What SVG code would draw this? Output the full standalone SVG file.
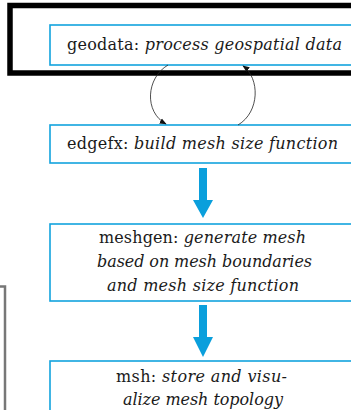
<svg xmlns="http://www.w3.org/2000/svg" width="351" height="410" viewBox="0 0 351 410">
<style>
.box{fill:#fff;stroke:#12a3de;stroke-width:1.6}
.t{font-family:"DejaVu Serif","Liberation Serif",serif;font-size:16px;fill:#1a1a1a;text-anchor:middle}
.i{font-style:italic}
.loop{fill:none;stroke:#222;stroke-width:0.8}
.big{fill:#0a9fdc}
</style>
<defs>
<marker id="ah" viewBox="0 0 10 10" refX="9" refY="5" markerWidth="7" markerHeight="7" markerUnits="userSpaceOnUse" orient="auto">
<path d="M0,1 L10,5 L0,9 z" fill="#111"/>
</marker>
</defs>
<rect x="0" y="0" width="351" height="410" fill="#fff"/>
<path d="M0,286.5 H5 V410" fill="none" stroke="#777" stroke-width="2.5"/>
<rect x="10" y="5.5" width="350" height="67.5" fill="none" stroke="#000" stroke-width="5.5"/>
<g id="geodata">
<rect class="box" x="50" y="25" width="306" height="40"/>
<text class="t" x="204.5" y="50" textLength="275" lengthAdjust="spacing">geodata: <tspan class="i">process geospatial data</tspan></text>
</g>
<g id="edgefx">
<rect class="box" x="50" y="125" width="306" height="38"/>
<text class="t" x="202.5" y="149" textLength="271" lengthAdjust="spacing">edgefx: <tspan class="i">build mesh size function</tspan></text>
</g>
<g id="meshgen">
<rect class="box" x="50" y="224" width="306" height="77"/>
<text class="t" x="202.5" y="243" textLength="207" lengthAdjust="spacing">meshgen: <tspan class="i">generate mesh</tspan></text>
<text class="t i" x="204.5" y="267" textLength="215" lengthAdjust="spacing">based on mesh boundaries</text>
<text class="t i" x="203" y="291" textLength="192" lengthAdjust="spacing">and mesh size function</text>
</g>
<g id="msh">
<rect class="box" x="50" y="361" width="306" height="60"/>
<text class="t" x="201.5" y="382" textLength="171" lengthAdjust="spacing">msh: <tspan class="i">store and visu-</tspan></text>
<text class="t i" x="203" y="405" textLength="160" lengthAdjust="spacing">alize mesh topology</text>
</g>
<g id="connectors">
<path class="loop" d="M168,65 C146,78 144,112 166,124" marker-end="url(#ah)"/>
<path class="loop" d="M238,125 C260,112 260,78 243,66" marker-end="url(#ah)"/>
<path class="big" d="M199,168 H207 V200 H213 L203,218 L193,200 H199 Z"/>
<path class="big" d="M199,305 H207 V337 H213 L203,357 L193,337 H199 Z"/>
</g>
</svg>
